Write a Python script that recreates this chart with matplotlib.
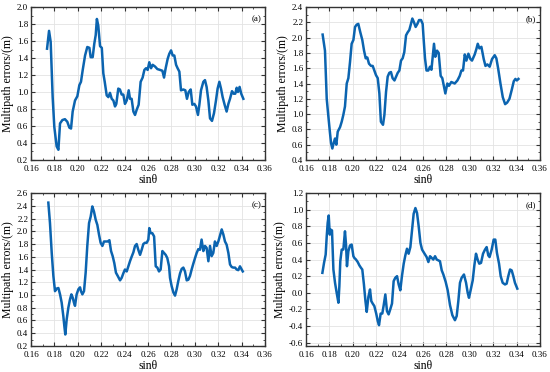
import matplotlib.pyplot as plt
from matplotlib.ticker import MultipleLocator, AutoMinorLocator

# panel (a)
xa = [0.1737, 0.1754, 0.1768, 0.1785, 0.1799, 0.1819, 0.1834, 0.1848, 0.1868, 0.1890,
      0.1910, 0.1928, 0.1942, 0.1956, 0.1976, 0.1996, 0.2013, 0.2027, 0.2042, 0.2062,
      0.2081, 0.2099, 0.2110, 0.2127, 0.2141, 0.2153, 0.2163, 0.2175, 0.2190, 0.2205,
      0.2218, 0.2230, 0.2247, 0.2261, 0.2275, 0.2290, 0.2304, 0.2318, 0.2329, 0.2346,
      0.2360, 0.2375, 0.2389, 0.2403, 0.2418, 0.2435, 0.2446, 0.2460, 0.2475, 0.2489,
      0.2503, 0.2520, 0.2537, 0.2554, 0.2569, 0.2583, 0.2597, 0.2611, 0.2626, 0.2640,
      0.2660, 0.2680, 0.2703, 0.2723, 0.2737, 0.2751, 0.2768, 0.2782, 0.2797, 0.2811,
      0.2825, 0.2840, 0.2853, 0.2868, 0.2882, 0.2902, 0.2919, 0.2933, 0.2948, 0.2965,
      0.2979, 0.2996, 0.3010, 0.3027, 0.3039, 0.3053, 0.3073, 0.3087, 0.3101, 0.3116,
      0.3130, 0.3147, 0.3164, 0.3181, 0.3195, 0.3210, 0.3224, 0.3238, 0.3255, 0.3272,
      0.3287, 0.3301, 0.3318, 0.3332, 0.3346, 0.3358, 0.3369, 0.3383, 0.3397, 0.3415]
ya = [1.51, 1.72, 1.59, 0.94, 0.59, 0.36, 0.32, 0.63, 0.67, 0.68,
      0.65, 0.58, 0.57, 0.77, 0.90, 0.95, 1.08, 1.12, 1.26, 1.43,
      1.53, 1.52, 1.41, 1.41, 1.57, 1.67, 1.86, 1.78, 1.54, 1.52,
      1.22, 1.12, 0.96, 0.94, 0.99, 0.92, 0.90, 0.83, 0.86, 1.04,
      1.03, 0.97, 0.97, 0.86, 0.90, 1.02, 0.92, 0.92, 0.77, 0.73,
      0.79, 0.85, 1.12, 1.17, 1.26, 1.28, 1.26, 1.35, 1.28, 1.32,
      1.30, 1.27, 1.26, 1.25, 1.17, 1.28, 1.39, 1.45, 1.49, 1.43,
      1.43, 1.32, 1.28, 1.24, 1.02, 1.03, 1.02, 0.92, 1.00, 1.03,
      0.85, 0.86, 0.83, 0.73, 0.85, 1.02, 1.12, 1.14, 1.06, 0.90,
      0.69, 0.66, 0.75, 0.90, 1.04, 1.12, 1.04, 0.94, 0.85, 0.77,
      0.86, 0.92, 1.01, 0.98, 0.98, 1.05, 1.00, 1.06, 0.98, 0.92]

# panel (b)
xb = [0.1742, 0.1762, 0.1777, 0.1791, 0.1805, 0.1814, 0.1825, 0.1836, 0.1848, 0.1859,
      0.1871, 0.1891, 0.1905, 0.1919, 0.1933, 0.1948, 0.1962, 0.1976, 0.1990, 0.2005,
      0.2019, 0.2033, 0.2047, 0.2064, 0.2081, 0.2096, 0.2110, 0.2124, 0.2138, 0.2156,
      0.2170, 0.2184, 0.2198, 0.2213, 0.2227, 0.2240, 0.2258, 0.2270, 0.2284, 0.2298,
      0.2312, 0.2326, 0.2340, 0.2356, 0.2370, 0.2384, 0.2398, 0.2412, 0.2426, 0.2440,
      0.2455, 0.2469, 0.2483, 0.2497, 0.2509, 0.2523, 0.2537, 0.2552, 0.2566, 0.2583,
      0.2597, 0.2606, 0.2617, 0.2630, 0.2645, 0.2660, 0.2672, 0.2694, 0.2705, 0.2720,
      0.2734, 0.2751, 0.2765, 0.2791, 0.2808, 0.2822, 0.2842, 0.2871, 0.2894, 0.2914,
      0.2928, 0.2942, 0.2957, 0.2971, 0.2988, 0.3005, 0.3019, 0.3042, 0.3056, 0.3068,
      0.3082, 0.3099, 0.3119, 0.3134, 0.3150, 0.3170, 0.3190, 0.3213, 0.3227, 0.3242,
      0.3262, 0.3282, 0.3302, 0.3319, 0.3339, 0.3359, 0.3376, 0.3390, 0.3402, 0.3416]
yb = [2.04, 1.83, 1.20, 0.97, 0.75, 0.62, 0.55, 0.62, 0.68, 0.60,
      0.77, 0.83, 0.90, 0.99, 1.10, 1.40, 1.47, 1.68, 1.92, 1.97,
      2.14, 2.17, 2.18, 2.07, 1.97, 1.83, 1.73, 1.74, 1.66, 1.63,
      1.63, 1.57, 1.51, 1.47, 1.27, 0.90, 0.86, 0.99, 1.29, 1.49,
      1.54, 1.55, 1.47, 1.44, 1.49, 1.54, 1.57, 1.70, 1.73, 1.81,
      2.03, 2.07, 2.10, 2.18, 2.25, 2.20, 2.14, 2.18, 2.23, 2.23,
      2.18, 1.97, 1.73, 1.57, 1.57, 1.62, 1.58, 1.92, 1.75, 1.83,
      1.80, 1.50, 1.47, 1.27, 1.40, 1.37, 1.42, 1.40, 1.44, 1.50,
      1.57, 1.57, 1.78, 1.70, 1.79, 1.72, 1.70, 1.78, 1.85, 1.92,
      1.86, 1.88, 1.72, 1.63, 1.65, 1.62, 1.72, 1.77, 1.73, 1.60,
      1.40, 1.22, 1.13, 1.15, 1.20, 1.32, 1.43, 1.46, 1.44, 1.46]

# panel (c)
xc = [0.1748, 0.1762, 0.1777, 0.1791, 0.1805, 0.1819, 0.1834, 0.1848, 0.1862, 0.1876,
      0.1885, 0.1893, 0.1905, 0.1919, 0.1933, 0.1945, 0.1956, 0.1967, 0.1976, 0.1990,
      0.2005, 0.2019, 0.2027, 0.2039, 0.2053, 0.2067, 0.2081, 0.2096, 0.2110, 0.2124,
      0.2138, 0.2153, 0.2167, 0.2181, 0.2195, 0.2210, 0.2224, 0.2241, 0.2255, 0.2270,
      0.2284, 0.2298, 0.2312, 0.2326, 0.2341, 0.2361, 0.2375, 0.2389, 0.2403, 0.2418,
      0.2432, 0.2446, 0.2460, 0.2475, 0.2489, 0.2503, 0.2517, 0.2532, 0.2546, 0.2560,
      0.2574, 0.2589, 0.2603, 0.2611, 0.2623, 0.2637, 0.2652, 0.2666, 0.2680, 0.2694,
      0.2708, 0.2723, 0.2737, 0.2751, 0.2765, 0.2780, 0.2788, 0.2802, 0.2817, 0.2831,
      0.2845, 0.2859, 0.2874, 0.2888, 0.2902, 0.2916, 0.2931, 0.2945, 0.2959, 0.2973,
      0.2987, 0.3002, 0.3016, 0.3030, 0.3044, 0.3058, 0.3073, 0.3087, 0.3101, 0.3116,
      0.3130, 0.3144, 0.3158, 0.3172, 0.3187, 0.3201, 0.3215, 0.3230, 0.3244, 0.3258,
      0.3272, 0.3287, 0.3301, 0.3315, 0.3329, 0.3344, 0.3358, 0.3372, 0.3386, 0.3401,
      0.3410]
yc = [2.45, 2.13, 1.66, 1.30, 1.06, 1.10, 1.11, 1.01, 0.88, 0.67,
      0.51, 0.38, 0.62, 0.80, 0.93, 1.01, 0.96, 0.88, 0.83, 1.01,
      1.09, 1.12, 1.06, 1.01, 1.06, 1.35, 1.77, 2.13, 2.23, 2.39,
      2.31, 2.18, 2.10, 1.95, 1.82, 1.77, 1.84, 1.84, 1.84, 1.86,
      1.69, 1.61, 1.50, 1.35, 1.30, 1.23, 1.27, 1.34, 1.40, 1.37,
      1.45, 1.53, 1.60, 1.67, 1.77, 1.80, 1.71, 1.63, 1.71, 1.80,
      1.82, 1.82, 1.87, 2.05, 1.97, 1.97, 1.92, 1.45, 1.43, 1.37,
      1.40, 1.69, 1.66, 1.63, 1.58, 1.45, 1.27, 1.14, 1.04, 0.99,
      1.09, 1.22, 1.34, 1.41, 1.43, 1.37, 1.23, 1.24, 1.30, 1.40,
      1.49, 1.58, 1.66, 1.72, 1.71, 1.87, 1.69, 1.77, 1.74, 1.53,
      1.77, 1.61, 1.66, 1.84, 1.77, 1.84, 1.93, 2.03, 1.95, 1.84,
      1.79, 1.66, 1.48, 1.44, 1.43, 1.43, 1.40, 1.39, 1.45, 1.40,
      1.37]

# panel (d)
xd = [0.1740, 0.1754, 0.1768, 0.1777, 0.1785, 0.1794, 0.1803, 0.1811, 0.1822, 0.1834,
      0.1848, 0.1862, 0.1877, 0.1885, 0.1893, 0.1905, 0.1919, 0.1933, 0.1942, 0.1950,
      0.1962, 0.1976, 0.1990, 0.2005, 0.2013, 0.2027, 0.2042, 0.2056, 0.2070, 0.2081,
      0.2095, 0.2108, 0.2119, 0.2133, 0.2147, 0.2158, 0.2170, 0.2184, 0.2200, 0.2213,
      0.2224, 0.2238, 0.2252, 0.2264, 0.2278, 0.2292, 0.2306, 0.2320, 0.2335, 0.2349,
      0.2363, 0.2378, 0.2392, 0.2406, 0.2420, 0.2435, 0.2449, 0.2463, 0.2477, 0.2492,
      0.2506, 0.2520, 0.2535, 0.2549, 0.2563, 0.2578, 0.2592, 0.2609, 0.2631, 0.2646,
      0.2660, 0.2674, 0.2688, 0.2703, 0.2717, 0.2731, 0.2745, 0.2760, 0.2774, 0.2794,
      0.2811, 0.2831, 0.2851, 0.2873, 0.2888, 0.2902, 0.2916, 0.2930, 0.2950, 0.2968,
      0.2982, 0.2993, 0.3010, 0.3025, 0.3039, 0.3053, 0.3067, 0.3081, 0.3096, 0.3113,
      0.3130, 0.3144, 0.3158, 0.3169, 0.3187, 0.3204, 0.3218, 0.3232, 0.3250, 0.3264,
      0.3281, 0.3301, 0.3315, 0.3329, 0.3344, 0.3358, 0.3372, 0.3386, 0.3406]
yd = [0.24, 0.36, 0.46, 0.68, 0.84, 0.93, 0.70, 0.76, 0.75, 0.28,
      0.12, 0.00, -0.12, 0.08, 0.38, 0.52, 0.52, 0.74, 0.58, 0.32,
      0.50, 0.57, 0.58, 0.44, 0.42, 0.40, 0.37, 0.33, 0.30, 0.28,
      0.10, -0.10, -0.23, -0.05, 0.04, -0.10, -0.13, -0.16, -0.25, -0.34,
      -0.39, -0.25, -0.25, -0.15, -0.02, -0.22, -0.26, -0.20, -0.13, 0.14,
      0.18, 0.20, 0.10, 0.03, 0.20, 0.35, 0.45, 0.53, 0.47, 0.55,
      0.75, 0.95, 1.02, 0.96, 0.80, 0.60, 0.52, 0.48, 0.43, 0.37,
      0.44, 0.42, 0.40, 0.44, 0.40, 0.39, 0.38, 0.27, 0.22, 0.13,
      0.03, -0.15, -0.27, -0.33, -0.28, -0.10, 0.12, 0.18, 0.22, 0.12,
      0.00, -0.06, 0.05, 0.15, 0.33, 0.47, 0.40, 0.35, 0.36, 0.47,
      0.52, 0.55, 0.45, 0.43, 0.52, 0.64, 0.64, 0.48, 0.35, 0.20,
      0.12, 0.10, 0.11, 0.20, 0.28, 0.27, 0.20, 0.12, 0.05]

panels = [
    (xa, ya, '(a)', (0.2, 2.0), [0.0564, 0.570, 0.4254, 0.411]),
    (xb, yb, '(b)', (0.4, 2.4), [0.5564, 0.570, 0.4254, 0.411]),
    (xc, yc, '(c)', (0.2, 2.6), [0.0564, 0.070, 0.4254, 0.411]),
    (xd, yd, '(d)', (-0.64, 1.2), [0.5564, 0.070, 0.4254, 0.411]),
]

plt.rcParams['font.family'] = 'Liberation Serif'
fig = plt.figure(figsize=(5.5, 3.72), dpi=100)

for x, y, tag, ylim, pos in panels:
    ax = fig.add_axes(pos)
    ax.plot(x, y, color='#0b64b0', linewidth=1.8)
    ax.set_xlim(0.16, 0.36)
    ax.set_ylim(*ylim)
    ax.xaxis.set_major_locator(MultipleLocator(0.02))
    ax.yaxis.set_major_locator(MultipleLocator(0.2))
    ax.xaxis.set_minor_locator(AutoMinorLocator(2))
    ax.yaxis.set_minor_locator(AutoMinorLocator(2))
    ax.xaxis.set_major_formatter(plt.FormatStrFormatter('%.2f'))
    ax.yaxis.set_major_formatter(plt.FormatStrFormatter('%.1f'))
    ax.grid(True, color='#e3e3e3', linewidth=0.6)
    ax.set_axisbelow(True)
    ax.tick_params(which='both', direction='in', top=True, right=True,
                   labelsize=6.5, color='#333333')
    ax.tick_params(axis='x', pad=3.5)
    ax.tick_params(axis='y', pad=2)
    ax.tick_params(which='major', length=3)
    ax.tick_params(which='minor', length=1.5)
    for s in ax.spines.values():
        s.set_linewidth(1.0)
        s.set_color('#333333')
    ax.set_xlabel('sinθ', fontsize=8.5, labelpad=1)
    ax.set_ylabel('Multipath errors/(m)', fontsize=8.5, labelpad=2)
    ax.text(0.985, 0.95, tag, transform=ax.transAxes, ha='right', va='top', fontsize=6.5)

fig.savefig('out.png', dpi=100)
